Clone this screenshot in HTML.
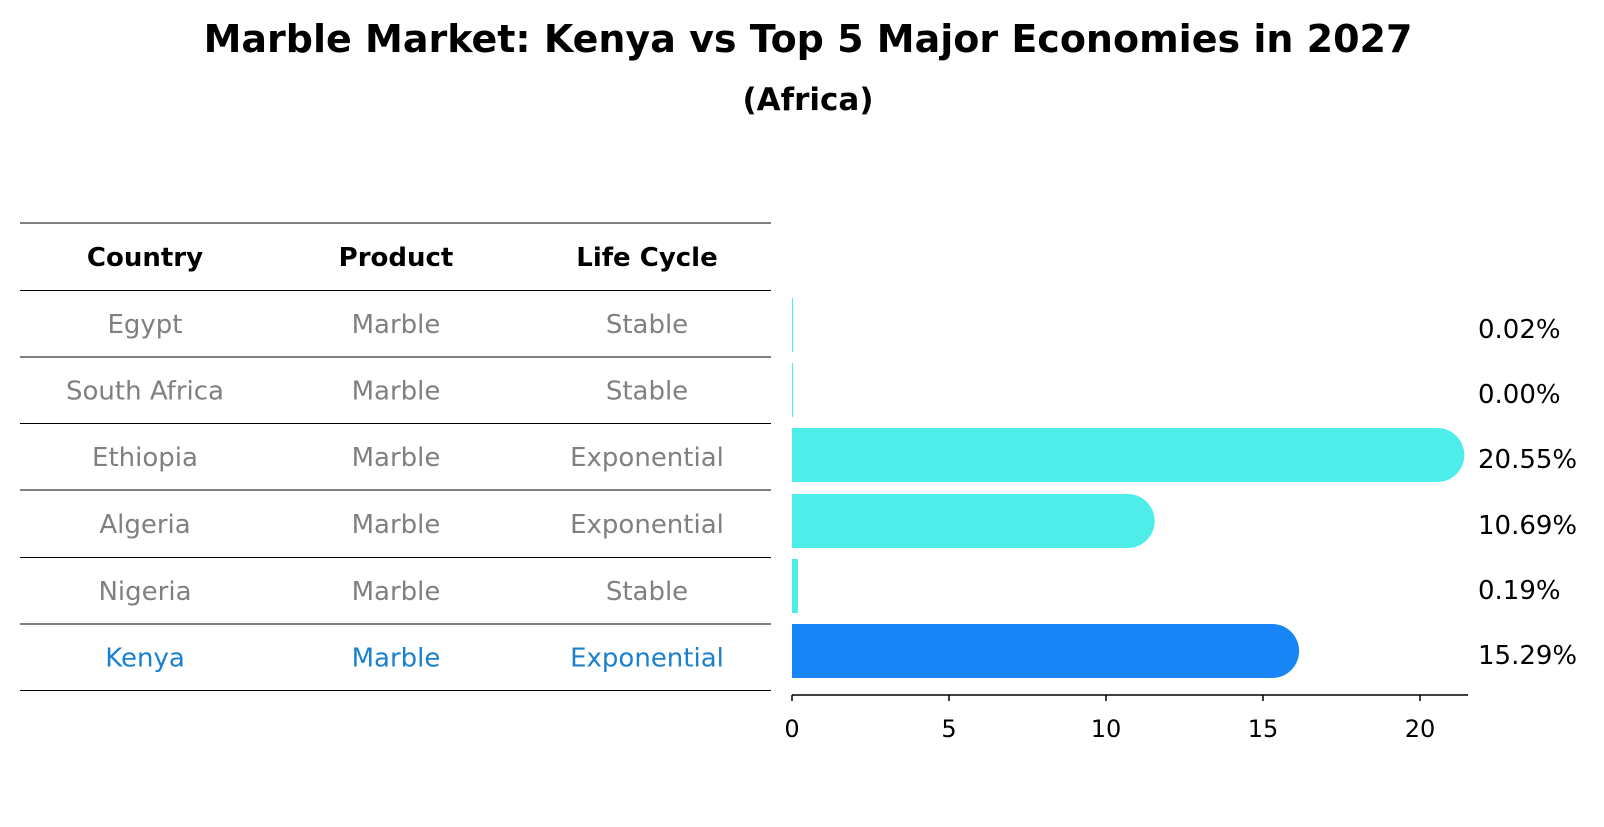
<!DOCTYPE html>
<html><head><meta charset="utf-8"><style>
body{margin:0;background:#fff;width:1604px;height:823px;overflow:hidden;font-family:"DejaVu Sans","Liberation Sans",sans-serif}
</style></head><body>
<svg width="1604" height="823" xmlns="http://www.w3.org/2000/svg" font-family="DejaVu Sans, Liberation Sans, sans-serif">
<text x="808" y="52" text-anchor="middle" font-size="38" font-weight="bold">Marble Market: Kenya vs Top 5 Major Economies in 2027</text>
<text x="808" y="110" text-anchor="middle" font-size="31" font-weight="bold">(Africa)</text>
<g id="table"></g>
<g id="bars"></g>
</svg>
<script>
const countries=["Egypt","South Africa","Ethiopia","Algeria","Nigeria","Kenya"];
const products=["Marble","Marble","Marble","Marble","Marble","Marble"];
const lifecycles=["Stable","Stable","Exponential","Exponential","Stable","Exponential"];
const values=[0.02,0.00,20.55,10.69,0.19,15.29];
const labels=["0.02%","0.00%","20.55%","10.69%","0.19%","15.29%"];
const ticks=[0,5,10,15,20];
const NS="http://www.w3.org/2000/svg";
function mk(t,a,p){const e=document.createElementNS(NS,t);for(const k in a)e.setAttribute(k,a[k]);p.appendChild(e);return e;}
const tb=document.getElementById('table'),bg=document.getElementById('bars');
const cols=[145,396,647];
const lineYs=[223,290.5,357,423.5,490,557.5,624,690.5];
lineYs.forEach(y=>{const l=mk('line',{x1:20,x2:771,y1:y,y2:y,stroke:'#000','stroke-width':1},tb);

});
["Country","Product","Life Cycle"].forEach((h,i)=>{const t=mk('text',{x:cols[i],y:266,'text-anchor':'middle','font-size':26,'font-weight':'bold'},tb);t.textContent=h;

});
countries.forEach((c,r)=>{const y=(lineYs[r+1]+lineYs[r+2])/2+9;const col=c==="Kenya"?'#1a80d0':'#808080';
[c,products[r],lifecycles[r]].forEach((v,i)=>{const t=mk('text',{x:cols[i],y:y,'text-anchor':'middle','font-size':26,fill:col},tb);t.textContent=v;

});});
const x0=792, sc=31.4, axY=695, bh=54;
const xs=v=>x0+v*sc;
const centers=[325,390,455,521,586,651];
const ax=mk('line',{x1:x0,x2:1468,y1:axY,y2:axY,stroke:'#000','stroke-width':1.5},bg);


ticks.forEach(t=>{const l=mk('line',{x1:xs(t),x2:xs(t),y1:axY,y2:axY+6,stroke:'#000','stroke-width':1.5},bg);


const tx=mk('text',{x:xs(t),y:axY+42,'text-anchor':'middle','font-size':24},bg);tx.textContent=t;

});
values.forEach((v,i)=>{const cy=centers[i];const w=xs(v)-x0;const col=countries[i]==="Kenya"?'#1785f5':'#4deeea';
let d;
if(v>1){const r=bh/2;d=`M${x0},${cy-r}H${x0+w}A${r},${r} 0 0 1 ${x0+w},${cy+r}H${x0}Z`;}
else{const ww=Math.max(w,1);d=`M${x0},${cy-bh/2}h${ww}v${bh}h${-ww}Z`;}
const p=mk('path',{d:d,fill:col},bg);


const t=mk('text',{x:1478,y:cy+13,'font-size':26},bg);t.textContent=labels[i];

});
</script>
</body></html>
